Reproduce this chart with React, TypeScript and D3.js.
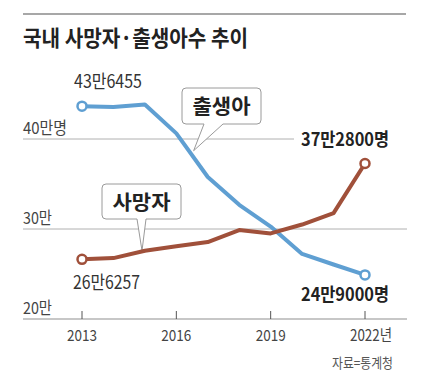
import React from "react";
import * as d3 from "d3";

const years = [2013, 2014, 2015, 2016, 2017, 2018, 2019, 2020, 2021, 2022];
const births = [43.6455, 43.5435, 43.842, 40.6243, 35.7771, 32.6822, 30.2676, 27.2337, 26.0562, 24.9];
const deaths = [26.6257, 26.7692, 27.5895, 28.0827, 28.5534, 29.882, 29.511, 30.4948, 31.768, 37.28];
const xTicks = [2013, 2016, 2019, 2022];
const xTickLabels = ["2013", "2016", "2019", "2022년"];
const yTicks = [40, 30, 20];
const yTickLabels = ["40만명", "30만", "20만"];

const FONT = "'Noto Sans CJK KR', 'Noto Sans', sans-serif";
const BLUE = "#5f9fd2";
const BROWN = "#a0503a";

export default function App() {
  const x = d3.scaleLinear().domain([2013, 2022]).range([82, 365]);
  const y = d3.scaleLinear().domain([20, 40]).range([319, 139]);
  const line = d3
    .line<number>()
    .x((_, i) => x(years[i]))
    .y((d) => y(d));

  const gridEnd = (v: number) => (v === 40 ? 294 : 407);
  const yLabelW = [44, 29, 29];

  return (
    <svg width={426} height={378} style={{ position: "absolute", left: 0, top: 0, background: "#fff" }}>
      <rect width={426} height={378} fill="#fff" />
      <line x1={23} x2={406} y1={14} y2={14} stroke="#8a8a8a" strokeWidth={1.5} />
      <text x={23} y={46} fontFamily={FONT} fontWeight={700} fontSize={22} fill="#222" textLength={225} lengthAdjust="spacingAndGlyphs">
        국내 사망자·출생아수 추이
      </text>

      {yTicks.map((v, i) => (
        <g key={v}>
          <line x1={23} x2={gridEnd(v)} y1={y(v)} y2={y(v)} stroke={v === 20 ? "#b5b5b5" : "#b0b0b0"} strokeWidth={v === 20 ? 1.5 : 1} />
          <text x={23} y={y(v) - 5.5} fontFamily={FONT} fontSize={16.5} fill="#444" textLength={yLabelW[i]} lengthAdjust="spacingAndGlyphs">
            {yTickLabels[i]}
          </text>
        </g>
      ))}

      {xTicks.map((t, i) => (
        <g key={t}>
          <line x1={x(t)} x2={x(t)} y1={311} y2={319} stroke="#555" strokeWidth={1} />
          <text
            x={x(t) - 15}
            y={340.5}
            fontFamily={FONT}
            fontSize={15.5}
            fill="#444"
            textLength={i === 3 ? 42 : 30}
            lengthAdjust="spacingAndGlyphs"
          >
            {xTickLabels[i]}
          </text>
        </g>
      ))}

      {/* callout 출생아 */}
      <path
        d={`M186,88 H257 Q261,88 261,92 V120 Q261,124 257,124 H223 L${x(2016.55)},${y(38.7)} L204,124 H186 Q182,124 182,120 V92 Q182,88 186,88 Z`}
        fill="#fff"
        stroke="#9a9a9a"
        strokeWidth={1}
      />
      <text x={221.5} y={113.5} textAnchor="middle" fontFamily={FONT} fontWeight={700} fontSize={20} fill="#222" textLength={58} lengthAdjust="spacingAndGlyphs">
        출생아
      </text>

      {/* callout 사망자 */}
      <path
        d={`M106,184 H177 Q181,184 181,188 V215 Q181,219 177,219 H146 L142,${y(27.7) + 1} L137,219 H106 Q102,219 102,215 V188 Q102,184 106,184 Z`}
        fill="#fff"
        stroke="#9a9a9a"
        strokeWidth={1}
      />
      <text x={141.5} y={209.5} textAnchor="middle" fontFamily={FONT} fontWeight={700} fontSize={20} fill="#222" textLength={58} lengthAdjust="spacingAndGlyphs">
        사망자
      </text>

      <path d={line(births) || ""} fill="none" stroke={BLUE} strokeWidth={4} strokeLinejoin="round" />
      <path d={line(deaths) || ""} fill="none" stroke={BROWN} strokeWidth={4} strokeLinejoin="round" />

      {[births, deaths].map((s, k) =>
        [0, s.length - 1].map((i) => (
          <circle key={`${k}-${i}`} cx={x(years[i])} cy={y(s[i])} r={4.5} fill="#fff" stroke={k === 0 ? BLUE : BROWN} strokeWidth={2.5} />
        ))
      )}

      <text x={74} y={88} fontFamily={FONT} fontSize={18} fill="#333" textLength={68} lengthAdjust="spacingAndGlyphs">
        43만6455
      </text>
      <text x={73} y={289} fontFamily={FONT} fontSize={18} fill="#333" textLength={67} lengthAdjust="spacingAndGlyphs">
        26만6257
      </text>
      <text x={301} y={146} fontFamily={FONT} fontWeight={700} fontSize={18} fill="#222" textLength={88} lengthAdjust="spacingAndGlyphs">
        37만2800명
      </text>
      <text x={301} y={301} fontFamily={FONT} fontWeight={700} fontSize={18} fill="#222" textLength={88} lengthAdjust="spacingAndGlyphs">
        24만9000명
      </text>

      <text x={332} y={368} fontFamily={FONT} fontSize={13.5} fill="#555" textLength={61} lengthAdjust="spacingAndGlyphs">
        자료=통계청
      </text>
    </svg>
  );
}
